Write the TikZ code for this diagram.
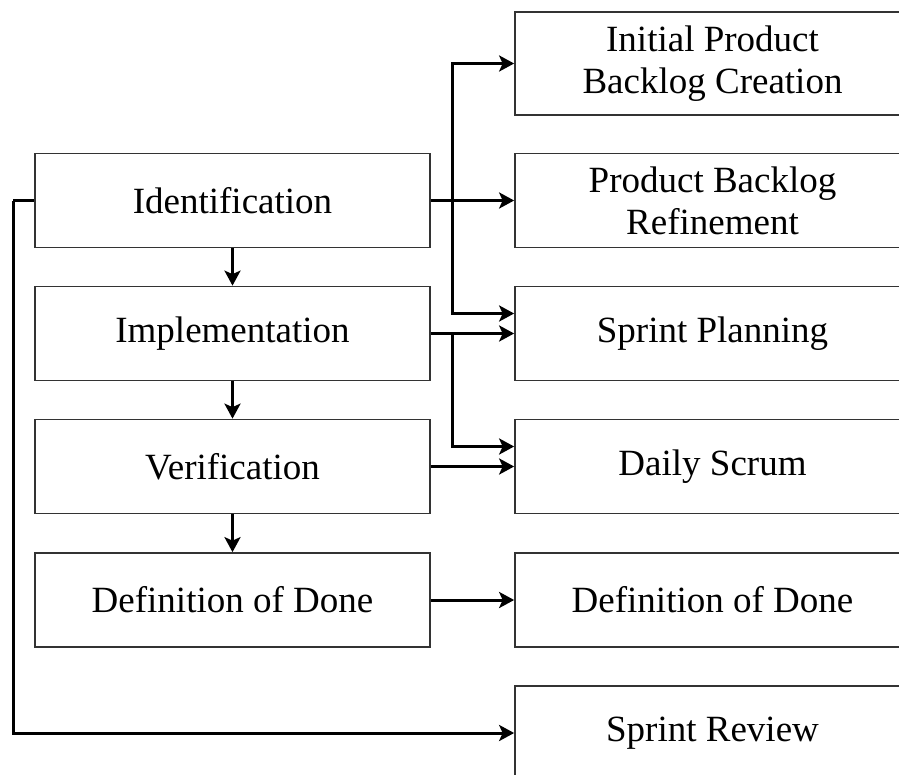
\documentclass[tikz,border=0pt]{standalone}
\usepackage{fontspec}
\setmainfont{Liberation Serif}
\usetikzlibrary{arrows.meta}
\begin{document}
\begin{tikzpicture}[x=1pt,y=-1pt,
  box/.style={draw=black!80, line width=1.7pt, minimum width=395pt, minimum height=94pt,
    inner sep=0pt, align=center, font=\fontsize{37}{42}\selectfont},
  arr/.style={draw=black, line width=3pt, -{Stealth[length=15pt,width=16pt,inset=3.5pt]}},
  lnk/.style={draw=black, line width=3pt}]
\useasboundingbox (0,0) rectangle (899,774);
\clip (0,0) rectangle (899,774);

% process stages (left column)
\node[box] (ident) at (232.5,200.5) {Identification};
\node[box] (impl)  at (232.5,333.5) {Implementation};
\node[box] (verif) at (232.5,466.5) {Verification};
\node[box] (dodl)  at (232.5,600)   {Definition of Done};

% scrum events and artefacts (right column)
\node[box, minimum height=103pt] (init) at (712.5,63.5) {Initial Product\\Backlog Creation};
\node[box] (refine) at (712.5,200.5) {Product Backlog\\Refinement};
\node[box] (plan)   at (712.5,333.5) {Sprint Planning};
\node[box] (daily)  at (712.5,466.5) {Daily Scrum};
\node[box] (dodr)   at (712.5,600)   {Definition of Done};
\node[box] (review) at (712.5,733)   {Sprint Review};

% downward flow between stages
\draw[arr] (ident.south) -- (impl.north);
\draw[arr] (impl.south) -- (verif.north);
\draw[arr] (verif.south) -- (dodl.north);

% branch points on the bus
\coordinate (b1) at (452,200.5);
\coordinate (b2) at (452,333.5);
\coordinate (lft) at (13,200.5);

% Identification feeds three events
\draw[arr] (ident.east) -- (refine.west);
\draw[arr] (b1) |- (init.west);
\draw[arr] (b1) |- ([yshift=20pt]plan.west);

% Implementation feeds two events
\draw[arr] (impl.east) -- (plan.west);
\draw[arr] (b2) |- ([yshift=20pt]daily.west);

% Verification and Definition of Done
\draw[arr] (verif.east) -- (daily.west);
\draw[arr] (dodl.east) -- (dodr.west);

% Identification loops round to Sprint Review
\draw[lnk] (ident.west) -- (lft);
\draw[arr] (lft) |- (review.west);
\end{tikzpicture}
\end{document}
